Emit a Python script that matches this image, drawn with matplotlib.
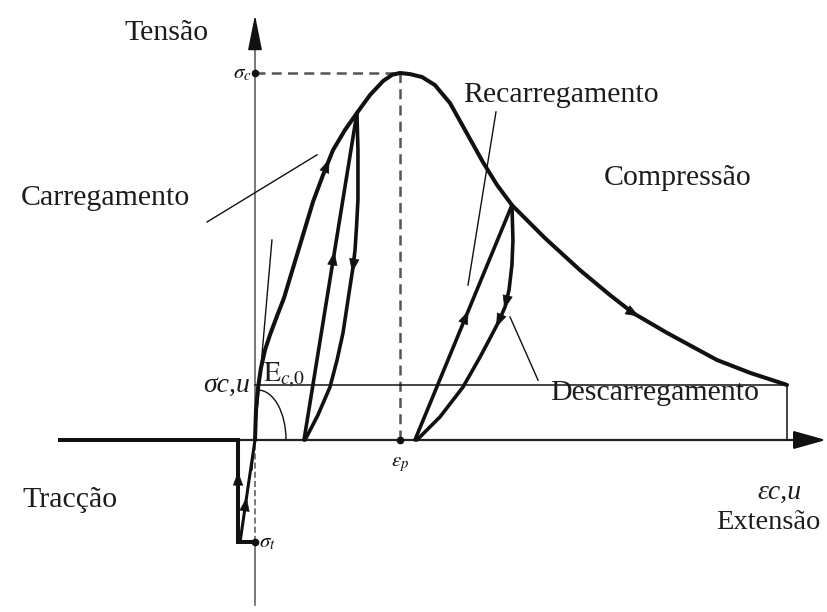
import numpy as np
import matplotlib
matplotlib.use("Agg")
import matplotlib.pyplot as plt
from matplotlib.patches import Arc

plt.rcParams['mathtext.fontset'] = 'stix'

# Monotonic envelope (strain normalised by eps_p, stress normalised by sigma_c)
env_eps = [0.0, 0.007, 0.021, 0.041, 0.069, 0.103, 0.152, 0.200, 0.241, 0.310,
           0.400, 0.469, 0.538, 0.621, 0.703, 0.793, 0.883, 0.945, 1.0,
           1.069, 1.152, 1.241, 1.345, 1.448, 1.572, 1.669, 1.772, 2.000,
           2.241, 2.448, 2.607, 2.841, 3.186, 3.414, 3.669]
env_sig = [0.0, 0.082, 0.142, 0.196, 0.245, 0.286, 0.338, 0.387, 0.441, 0.531,
           0.649, 0.722, 0.790, 0.845, 0.891, 0.940, 0.978, 0.995, 1.0,
           0.997, 0.989, 0.967, 0.918, 0.845, 0.757, 0.695, 0.640, 0.550,
           0.463, 0.395, 0.346, 0.292, 0.218, 0.183, 0.150]

# First cycle (pre-peak): reloading and unloading branches
rel1_eps = [0.338, 0.703]
rel1_sig = [0.0, 0.891]
unl1_eps = [0.703, 0.710, 0.710, 0.700, 0.690, 0.676, 0.641, 0.607, 0.566, 0.517, 0.434, 0.345]
unl1_sig = [0.891, 0.790, 0.654, 0.580, 0.518, 0.471, 0.381, 0.292, 0.218, 0.144, 0.068, 0.0]

# Second cycle (post-peak)
rel2_eps = [1.103, 1.772]
rel2_sig = [0.0, 0.640]
unl2_eps = [1.772, 1.779, 1.772, 1.752, 1.724, 1.676, 1.614, 1.552, 1.434, 1.276, 1.117]
unl2_sig = [0.640, 0.545, 0.477, 0.409, 0.362, 0.319, 0.272, 0.226, 0.144, 0.063, 0.0]

# Tension branch
ten_eps = [-1.345, -0.117, -0.117, -0.014]
ten_sig = [0.0, 0.0, -0.278, -0.278]
tdiag_eps = [-0.103, -0.045, 0.0]
tdiag_sig = [-0.278, -0.120, 0.0]

# Characteristic values
eps_p, sig_c = 1.0, 1.0
sig_t = -0.278
sig_cu = 0.150
eps_cu = 3.669
tan_eps = [-0.021, 0.117]       # initial tangent modulus E_c,0
tan_sig = [-0.082, 0.545]

fig = plt.figure(figsize=(8.28, 6.12), dpi=100)
ax = fig.add_axes([0, 0, 1, 1])
ax.set_xlim(-1.7586, 3.9517)
ax.set_ylim(-0.4687, 1.1989)
ax.axis('off')

K = '#111111'
G = '#555555'
THICK = 2.9
serif = 'Liberation Serif'

# Axes
ax.plot([0, 0], [-0.45, sig_t], color=G, lw=1.1, zorder=1)
ax.plot([0, 0], [sig_t, 0], color=G, lw=1.1, ls=(0, (4, 2)), zorder=1)
ax.plot([0, 0], [0, 1.10], color=G, lw=1.1, zorder=1)
ax.annotate('', xy=(0, 1.158), xytext=(0, 1.08),
            arrowprops=dict(arrowstyle='-|>,head_length=1.1,head_width=0.22',
                            color=K, lw=1.1, shrinkA=0, shrinkB=0, mutation_scale=20))
ax.plot([-0.117, 3.80], [0, 0], color='#222222', lw=1.6, zorder=1)
ax.annotate('', xy=(3.938, 0), xytext=(3.78, 0),
            arrowprops=dict(arrowstyle='-|>,head_length=1.0,head_width=0.28',
                            color=K, lw=1.6, shrinkA=0, shrinkB=0, mutation_scale=20))

# Peak guide lines
ax.plot([0, eps_p], [sig_c, sig_c], color=G, lw=1.8, ls=(0, (4, 2.5)))
ax.plot([eps_p, eps_p], [0, sig_c], color=G, lw=1.8, ls=(0, (4, 2.5)))
ax.plot([0, eps_p, 0], [sig_c, 0, sig_t], 'o', color=K, ms=4.5, zorder=5)

# Residual stress line and ultimate strain
ax.plot([0, eps_cu], [sig_cu, sig_cu], color=K, lw=1.1)
ax.plot([eps_cu, eps_cu], [0, sig_cu], color=K, lw=1.1)

# Initial tangent and angle arc
ax.plot(tan_eps, tan_sig, color=K, lw=1.0)
ax.add_patch(Arc((0.021, 0), 0.386, 0.272, theta1=0, theta2=90, color=K, lw=1.0))

# Curves
ax.plot(env_eps, env_sig, color=K, lw=THICK, solid_capstyle='round', solid_joinstyle='round')
for xs, ys in [(rel1_eps, rel1_sig), (unl1_eps, unl1_sig),
               (rel2_eps, rel2_sig), (unl2_eps, unl2_sig)]:
    ax.plot(xs, ys, color=K, lw=2.6, solid_capstyle='round', solid_joinstyle='round')
ax.plot(ten_eps, ten_sig, color=K, lw=THICK, solid_joinstyle='miter')
ax.plot(tdiag_eps, tdiag_sig, color=K, lw=2.2)


def arrow_on(xs, ys, coord, value):
    """Arrowhead on a polyline where x (coord=0) or y (coord=1) reaches value."""
    pts = np.column_stack([xs, ys]).astype(float)
    for a, b in zip(pts[:-1], pts[1:]):
        lo, hi = sorted((a[coord], b[coord]))
        if lo <= value <= hi and hi > lo:
            t = (value - a[coord]) / (b[coord] - a[coord])
            p = a + t * (b - a)
            d = b - a
            pd = ax.transData.transform(p)
            dd = ax.transData.transform(p + d) - pd
            dd = dd / np.hypot(*dd)
            tip = ax.transData.inverted().transform(pd + 5 * dd)
            tail = ax.transData.inverted().transform(pd - 5 * dd)
            ax.annotate('', xy=tip, xytext=tail,
                        arrowprops=dict(arrowstyle='-|>,head_length=0.75,head_width=0.28',
                                        color=K, lw=0.5, shrinkA=0, shrinkB=0,
                                        mutation_scale=12), zorder=6)
            return


arrow_on(env_eps, env_sig, 0, 0.50)
arrow_on(env_eps, env_sig, 0, 2.62)
arrow_on(rel1_eps, rel1_sig, 1, 0.50)
arrow_on(unl1_eps, unl1_sig, 1, 0.47)
arrow_on(rel2_eps, rel2_sig, 1, 0.34)
arrow_on(unl2_eps, unl2_sig, 1, 0.37)
arrow_on(unl2_eps, unl2_sig, 1, 0.32)
arrow_on([-0.117, -0.117], [-0.278, 0.0], 1, -0.10)
arrow_on(tdiag_eps, tdiag_sig, 1, -0.17)

# Leader lines
ax.plot([-0.331, 0.428], [0.594, 0.777], color=K, lw=1.0)
ax.plot([1.662, 1.469], [0.894, 0.422], color=K, lw=1.0)
ax.plot([1.759, 1.952], [0.335, 0.163], color=K, lw=1.0)

# Labels
tc = '#1c1c1c'
fs = 21.5
ax.text(-0.607, 1.109, 'Tensão', family=serif, fontsize=fs, color=tc, ha='center', va='center')
ax.text(2.917, 0.714, 'Compressão', family=serif, fontsize=fs, color=tc, ha='center', va='center')
ax.text(2.110, 0.940, 'Recarregamento', family=serif, fontsize=fs, color=tc, ha='center', va='center')
ax.text(-1.034, 0.659, 'Carregamento', family=serif, fontsize=fs, color=tc, ha='center', va='center')
ax.text(2.759, 0.128, 'Descarregamento', family=serif, fontsize=fs, color=tc, ha='center', va='center')
ax.text(-1.276, -0.163, 'Tracção', family=serif, fontsize=fs, color=tc, ha='center', va='center')
ax.text(3.90, -0.226, 'Extensão', family=serif, fontsize=20.5, color=tc, ha='right', va='center')

ax.text(-0.034, sig_cu, 'σc,u', family=serif, style='italic', fontsize=20, color=tc,
        ha='right', va='center')
ax.text(3.62, -0.142, 'εc,u', family=serif, style='italic', fontsize=20, color=tc,
        ha='center', va='center')
ax.text(0.052, 0.160, r'$\mathrm{E}_{c{,}0}$', fontsize=20, color=tc, ha='left', va='baseline')
ax.text(-0.02, sig_c, r'$\sigma_c$', fontsize=15, color=K, ha='right', va='center')
ax.text(eps_p, -0.065, r'$\epsilon_p$', fontsize=15, color=K, ha='center', va='center')
ax.text(0.03, sig_t, r'$\sigma_t$', fontsize=15, color=K, ha='left', va='center')

fig.savefig('out.png', dpi=100, facecolor='white')
